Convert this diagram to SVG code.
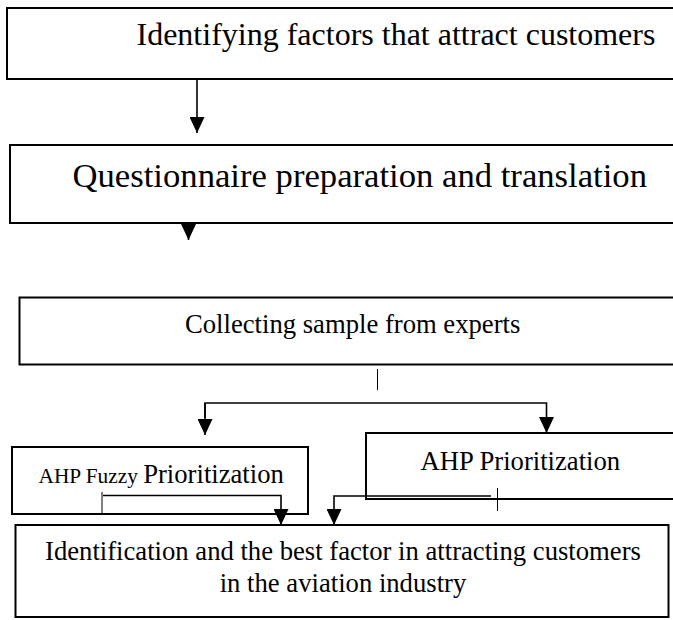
<svg xmlns="http://www.w3.org/2000/svg" width="673" height="620" viewBox="0 0 673 620">
<defs>
<style>
.box{fill:#fff;stroke:#000;stroke-width:2}
.t{font-family:"Liberation Serif","Times New Roman",serif;fill:#000}
.c{fill:none;stroke:#000;stroke-width:1.6}
.tick{fill:none;stroke:#000;stroke-width:1}
</style>
<marker id="ah" viewBox="0 0 16 15" refX="16" refY="7.5" markerWidth="16" markerHeight="15" markerUnits="userSpaceOnUse" orient="auto">
<path d="M0,0 L16,7.5 L0,15 Z" fill="#000"/>
</marker>
</defs>
<rect width="673" height="620" fill="#fff"/>
<g id="n1">
<rect class="box" x="7" y="8" width="680" height="71"/>
<text class="t" x="136.5" y="45" font-size="32">Identifying factors that attract customers</text>
</g>
<g id="n2">
<rect class="box" x="10" y="145" width="680" height="78"/>
<text class="t" x="72.5" y="187" font-size="34.67">Questionnaire preparation and translation</text>
</g>
<g id="n3">
<rect class="box" x="19.5" y="297.5" width="680" height="67"/>
<text class="t" x="185" y="333" font-size="26.67">Collecting sample from experts</text>
</g>
<g id="n4">
<rect class="box" x="12" y="447" width="296" height="67"/>
<text class="t" x="38.5" y="483" font-size="26.67"><tspan font-size="21.33">AHP Fuzzy </tspan>Prioritization</text>
</g>
<g id="n5">
<rect class="box" x="366" y="433" width="320" height="66"/>
<text class="t" x="420.5" y="470" font-size="26.67">AHP Prioritization</text>
</g>
<g id="n6">
<rect class="box" x="15.5" y="525" width="653" height="92"/>
<text class="t" x="343" y="560" font-size="26.67" text-anchor="middle">Identification and the best factor in attracting customers</text>
<text class="t" x="343" y="592" font-size="26.67" text-anchor="middle">in the aviation industry</text>
</g>
<g id="connectors">
<line class="c" x1="197" y1="79" x2="197" y2="133" marker-end="url(#ah)"/>
<line class="c" x1="188.5" y1="224" x2="188.5" y2="240" marker-end="url(#ah)"/>
<line class="tick" x1="377.5" y1="369" x2="377.5" y2="390"/>
<polyline class="c" points="205,418 205,403 546.5,403 546.5,433" marker-end="url(#ah)"/>
<line class="c" x1="205" y1="403" x2="205" y2="435" marker-end="url(#ah)"/>
<line class="tick" x1="102" y1="492" x2="102" y2="514"/>
<polyline class="c" points="103,495.5 281,495.5 281,525" marker-end="url(#ah)"/>
<polyline class="c" points="491,496 334,496 334,525" marker-end="url(#ah)"/>
<line class="tick" x1="497.5" y1="488" x2="497.5" y2="511"/>
</g>
</svg>
